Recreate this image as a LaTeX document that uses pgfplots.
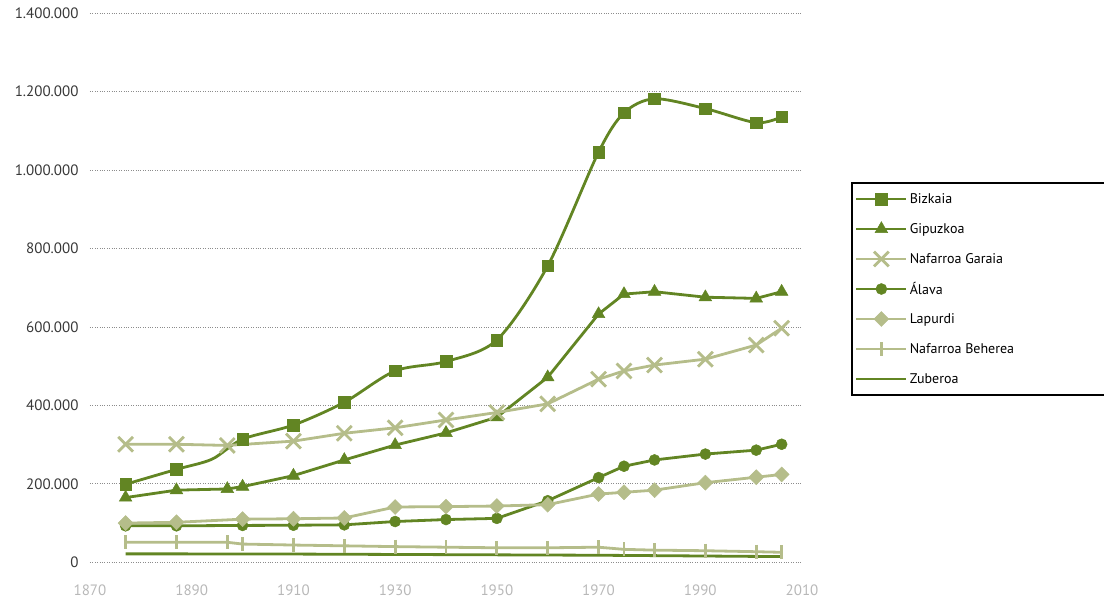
\documentclass[border=0pt]{standalone}
\usepackage{pgfplots}
\pgfplotsset{compat=1.18}
\usepackage{fontspec}
\setmainfont{PT Sans}
\definecolor{dg}{RGB}{98,133,35}
\definecolor{lg}{RGB}{181,189,138}
\begin{document}
\begin{tikzpicture}
\useasboundingbox (-90pt,-39.7pt) rectangle (1014pt,562.3pt);
\begin{axis}[
  at={(0pt,0pt)}, anchor=south west,
  scale only axis, width=712pt, height=549pt,
  xmin=1870, xmax=2010, ymin=0, ymax=1400000,
  xtick={1870,1890,1910,1930,1950,1970,1990,2010},
  xticklabels={1870,1890,1910,1930,1950,1970,1990,2010},
  ytick={0,200000,400000,600000,800000,1000000,1200000,1400000},
  yticklabels={0,200.000,400.000,600.000,800.000,1.000.000,1.200.000,1.400.000},
  scaled y ticks=false,
  axis line style={draw=none},
  major tick style={draw=none},
  ymajorgrids,
  grid style={dash pattern=on 0.8pt off 1.6pt, color=black!45, line width=0.8pt},
  xticklabel style={font=\fontsize{15}{18}\selectfont, color=black!28, yshift=-19pt},
  yticklabel style={font=\fontsize{15}{18}\selectfont, color=black!78, xshift=-8pt},
  legend style={at={(axis description cs:1.0688,0.6927)}, anchor=north west, draw=black, line width=2pt,
    font=\fontsize{14}{16}\selectfont, inner xsep=3pt, inner ysep=1pt, row sep=0pt,
    nodes={minimum height=30pt, inner ysep=0pt, inner xsep=2pt}},
  legend cell align=left,
  legend image code/.code={\draw[mark repeat=2,mark phase=2] plot coordinates {(0pt,0pt) (25pt,0pt) (50pt,0pt)};},
]
% Bizkaia line (smoothed)
\addplot[color=dg, line width=2.8pt, smooth, tension=0.5, forget plot] coordinates {
(1877,199000) (1887,237000) (1894,263000) (1900,314000) (1910,350000) (1920,408000)
(1930,488000) (1940,512000) (1950,567000) (1960,756000) (1970,1046000) (1975,1146000)
(1981,1182000) (1991,1157000) (2001,1121000) (2006,1136000)};
\addplot[color=dg, only marks, mark=square*, mark size=5.8pt, mark options={solid, line width=0.5pt, fill=dg},
  legend image code/.code={\draw[dg, line width=2.8pt] (0pt,0pt)--(50pt,0pt);
    \draw[dg, fill=dg, line width=0.5pt] plot[mark=square*, mark size=5.8pt] coordinates {(25pt,0pt)};}] coordinates {
(1877,199000) (1887,237000) (1900,314000) (1910,350000) (1920,408000)
(1930,488000) (1940,512000) (1950,567000) (1960,756000) (1970,1046000) (1975,1146000)
(1981,1182000) (1991,1157000) (2001,1121000) (2006,1136000)};
\addlegendentry{\makebox[200pt][l]{Bizkaia}}
% Gipuzkoa
\addplot[color=dg, line width=2.8pt, mark=triangle*, mark size=7.3pt, mark options={solid, line width=0.5pt, fill=dg}] coordinates {
(1877,165000) (1887,184000) (1897,187000) (1900,193000) (1910,221000) (1920,261000)
(1930,299000) (1940,330000) (1950,370000) (1960,472000) (1970,633000) (1975,684000)
(1981,690000) (1991,676000) (2001,673000) (2006,690000)};
\addlegendentry{Gipuzkoa}
% Nafarroa Garaia
\addplot[color=lg, line width=2.8pt, mark=x, mark size=10.5pt, mark options={solid, line width=2.8pt}] coordinates {
(1877,301000) (1887,301000) (1897,298000) (1910,309000) (1920,329000) (1930,343000)
(1940,363000) (1950,382000) (1960,404000) (1970,467000) (1975,488000) (1981,503000)
(1991,518000) (2001,554000) (2006,597000)};
\addlegendentry{Nafarroa Garaia}
% Alava
\addplot[color=dg, line width=2.8pt, mark=*, mark size=5.5pt, mark options={solid, line width=0.5pt, fill=dg}] coordinates {
(1877,93000) (1887,93000) (1900,94000) (1910,94500) (1920,95500) (1930,104000)
(1940,109000) (1950,112000) (1960,157000) (1970,216000) (1975,245000) (1981,261000)
(1991,276000) (2001,286000) (2006,301000)};
\addlegendentry{Álava}
% Lapurdi
\addplot[color=lg, line width=2.8pt, mark=square*, mark size=5.3pt, mark options={solid, rotate=45, line width=0.5pt, fill=lg}] coordinates {
(1877,100000) (1887,102000) (1900,110000) (1910,111000) (1920,113000) (1930,141000)
(1940,142000) (1950,143500) (1960,147000) (1970,174000) (1975,178500) (1981,184000)
(1991,203000) (2001,217000) (2006,224000)};
\addlegendentry{Lapurdi}
% Nafarroa Beherea
\addplot[color=lg, line width=2.8pt, mark=|, mark size=7pt, mark options={solid, line width=2.8pt}] coordinates {
(1877,51000) (1887,51000) (1897,51000) (1900,46500) (1910,44000) (1920,42000)
(1930,40000) (1940,38500) (1950,37000) (1960,37000) (1970,38500) (1975,33000)
(1981,31000) (1991,29500) (2001,27000) (2006,25500)};
\addlegendentry{Nafarroa Beherea}
% Zuberoa
\addplot[color=dg, line width=2.8pt, no marks] coordinates {
(1877,21500) (1887,21500) (1900,21000) (1910,21000) (1920,20500) (1930,20000)
(1940,19500) (1950,19000) (1960,18500) (1970,18000) (1975,17500) (1981,17000)
(1991,16000) (2001,15000) (2006,14500)};
\addlegendentry{Zuberoa}
\end{axis}
\end{tikzpicture}
\end{document}
